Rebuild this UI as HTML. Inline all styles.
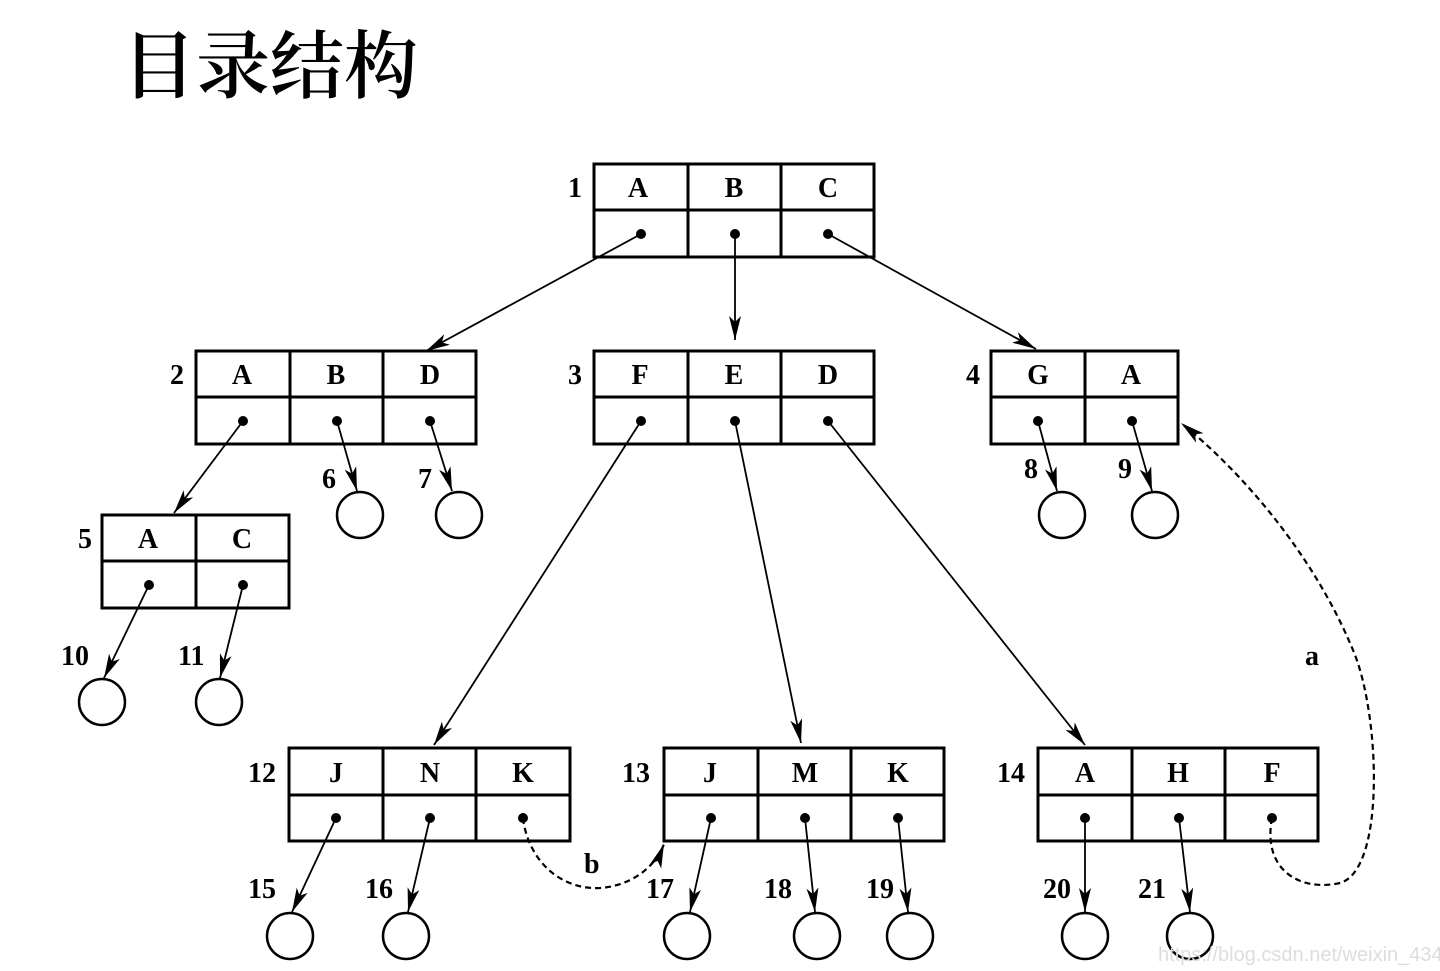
<!DOCTYPE html>
<html><head><meta charset="utf-8"><style>
html,body{margin:0;padding:0;background:#fff;}
svg{display:block;}
.t{font-family:"Liberation Serif",serif;font-weight:bold;font-size:28px;fill:#000;}
</style></head><body>
<svg width="1440" height="971" viewBox="0 0 1440 971" xmlns="http://www.w3.org/2000/svg">
<defs>
<marker id="ar" viewBox="0 0 24 12" refX="24" refY="6" markerWidth="24" markerHeight="12" markerUnits="userSpaceOnUse" orient="auto">
<path d="M0,0 L24,6 L0,12 L6,6 Z" fill="#000"/>
</marker>
</defs>
<text x="122" y="92" style="font-family:'Noto Serif CJK SC','Noto Sans CJK SC',serif;font-size:74px;font-weight:600;fill:#000">目录结构</text>

<g fill="none" stroke="#000" stroke-width="3">
<!-- box1 -->
<rect x="594" y="164" width="280" height="93"/><line x1="594" y1="210" x2="874" y2="210"/><line x1="688" y1="164" x2="688" y2="257"/><line x1="781" y1="164" x2="781" y2="257"/>
<!-- box2 -->
<rect x="196" y="351" width="280" height="93"/><line x1="196" y1="397" x2="476" y2="397"/><line x1="290" y1="351" x2="290" y2="444"/><line x1="383" y1="351" x2="383" y2="444"/>
<!-- box3 -->
<rect x="594" y="351" width="280" height="93"/><line x1="594" y1="397" x2="874" y2="397"/><line x1="688" y1="351" x2="688" y2="444"/><line x1="781" y1="351" x2="781" y2="444"/>
<!-- box4 -->
<rect x="991" y="351" width="187" height="93"/><line x1="991" y1="397" x2="1178" y2="397"/><line x1="1085" y1="351" x2="1085" y2="444"/>
<!-- box5 -->
<rect x="102" y="515" width="187" height="93"/><line x1="102" y1="561" x2="289" y2="561"/><line x1="196" y1="515" x2="196" y2="608"/>
<!-- box12 -->
<rect x="289" y="748" width="281" height="93"/><line x1="289" y1="795" x2="570" y2="795"/><line x1="383" y1="748" x2="383" y2="841"/><line x1="476" y1="748" x2="476" y2="841"/>
<!-- box13 -->
<rect x="664" y="748" width="280" height="93"/><line x1="664" y1="795" x2="944" y2="795"/><line x1="758" y1="748" x2="758" y2="841"/><line x1="851" y1="748" x2="851" y2="841"/>
<!-- box14 -->
<rect x="1038" y="748" width="280" height="93"/><line x1="1038" y1="795" x2="1318" y2="795"/><line x1="1132" y1="748" x2="1132" y2="841"/><line x1="1225" y1="748" x2="1225" y2="841"/>
</g>

<g fill="none" stroke="#000" stroke-width="2.5">
<circle cx="360" cy="515" r="23"/><circle cx="459" cy="515" r="23"/>
<circle cx="1062" cy="515" r="23"/><circle cx="1155" cy="515" r="23"/>
<circle cx="102" cy="702" r="23"/><circle cx="219" cy="702" r="23"/>
<circle cx="290" cy="936" r="23"/><circle cx="406" cy="936" r="23"/>
<circle cx="687" cy="936" r="23"/><circle cx="817" cy="936" r="23"/><circle cx="910" cy="936" r="23"/>
<circle cx="1085" cy="936" r="23"/><circle cx="1190" cy="936" r="23"/>
</g>

<g fill="#000">
<circle cx="641" cy="234" r="5"/><circle cx="735" cy="234" r="5"/><circle cx="828" cy="234" r="5"/>
<circle cx="243" cy="421" r="5"/><circle cx="337" cy="421" r="5"/><circle cx="430" cy="421" r="5"/>
<circle cx="641" cy="421" r="5"/><circle cx="735" cy="421" r="5"/><circle cx="828" cy="421" r="5"/>
<circle cx="1038" cy="421" r="5"/><circle cx="1132" cy="421" r="5"/>
<circle cx="149" cy="585" r="5"/><circle cx="243" cy="585" r="5"/>
<circle cx="336" cy="818" r="5"/><circle cx="430" cy="818" r="5"/><circle cx="523" cy="818" r="5"/>
<circle cx="711" cy="818" r="5"/><circle cx="805" cy="818" r="5"/><circle cx="898" cy="818" r="5"/>
<circle cx="1085" cy="818" r="5"/><circle cx="1179" cy="818" r="5"/><circle cx="1272" cy="818" r="5"/>
</g>

<g stroke="#000" stroke-width="1.8" fill="none" marker-end="url(#ar)">
<line x1="641" y1="234" x2="426" y2="351"/>
<line x1="735" y1="234" x2="735" y2="340"/>
<line x1="828" y1="234" x2="1036" y2="349"/>
<line x1="243" y1="421" x2="174" y2="513"/>
<line x1="337" y1="421" x2="357" y2="491"/>
<line x1="430" y1="421" x2="452" y2="491"/>
<line x1="641" y1="421" x2="434" y2="745"/>
<line x1="735" y1="421" x2="801" y2="743"/>
<line x1="828" y1="421" x2="1085" y2="745"/>
<line x1="1038" y1="421" x2="1057" y2="491"/>
<line x1="1132" y1="421" x2="1152" y2="491"/>
<line x1="149" y1="585" x2="104" y2="678"/>
<line x1="243" y1="585" x2="220" y2="678"/>
<line x1="336" y1="818" x2="292" y2="912"/>
<line x1="430" y1="818" x2="408" y2="912"/>
<line x1="711" y1="818" x2="690" y2="912"/>
<line x1="805" y1="818" x2="815" y2="912"/>
<line x1="898" y1="818" x2="908" y2="912"/>
<line x1="1085" y1="818" x2="1085" y2="912"/>
<line x1="1179" y1="818" x2="1190" y2="912"/>
</g>
<g stroke="#000" stroke-width="2.2" fill="none" stroke-dasharray="6,4" marker-end="url(#ar)">
<path d="M523,818 C528,860 560,890 600,888 C630,886 655,868 664,844"/>
<path d="M1272,818 C1262,870 1300,892 1340,883 C1385,870 1380,720 1355,655 C1315,555 1240,470 1181,423"/>
</g>

<g class="t">
<text x="638" y="197" text-anchor="middle">A</text><text x="734" y="197" text-anchor="middle">B</text><text x="828" y="197" text-anchor="middle">C</text>
<text x="242" y="384" text-anchor="middle">A</text><text x="336" y="384" text-anchor="middle">B</text><text x="430" y="384" text-anchor="middle">D</text>
<text x="640" y="384" text-anchor="middle">F</text><text x="734" y="384" text-anchor="middle">E</text><text x="828" y="384" text-anchor="middle">D</text>
<text x="1038" y="384" text-anchor="middle">G</text><text x="1131" y="384" text-anchor="middle">A</text>
<text x="148" y="548" text-anchor="middle">A</text><text x="242" y="548" text-anchor="middle">C</text>
<text x="336" y="782" text-anchor="middle">J</text><text x="430" y="782" text-anchor="middle">N</text><text x="523" y="782" text-anchor="middle">K</text>
<text x="710" y="782" text-anchor="middle">J</text><text x="805" y="782" text-anchor="middle">M</text><text x="898" y="782" text-anchor="middle">K</text>
<text x="1085" y="782" text-anchor="middle">A</text><text x="1178" y="782" text-anchor="middle">H</text><text x="1272" y="782" text-anchor="middle">F</text>
<text x="568" y="197">1</text><text x="170" y="384">2</text><text x="568" y="384">3</text><text x="966" y="384">4</text><text x="78" y="548">5</text>
<text x="322" y="488">6</text><text x="418" y="488">7</text><text x="1024" y="478">8</text><text x="1118" y="478">9</text>
<text x="61" y="665">10</text><text x="178" y="665">11</text>
<text x="248" y="782">12</text><text x="622" y="782">13</text><text x="997" y="782">14</text>
<text x="248" y="898">15</text><text x="365" y="898">16</text><text x="646" y="898">17</text><text x="764" y="898">18</text><text x="866" y="898">19</text>
<text x="1043" y="898">20</text><text x="1138" y="898">21</text>
<text x="584" y="873">b</text><text x="1305" y="665">a</text>
</g>
<text x="1158" y="961" style="font-family:'Liberation Sans',sans-serif;font-size:20px;fill:#ddd">https://blog.csdn.net/weixin_43428283</text>
</svg>
</body></html>
